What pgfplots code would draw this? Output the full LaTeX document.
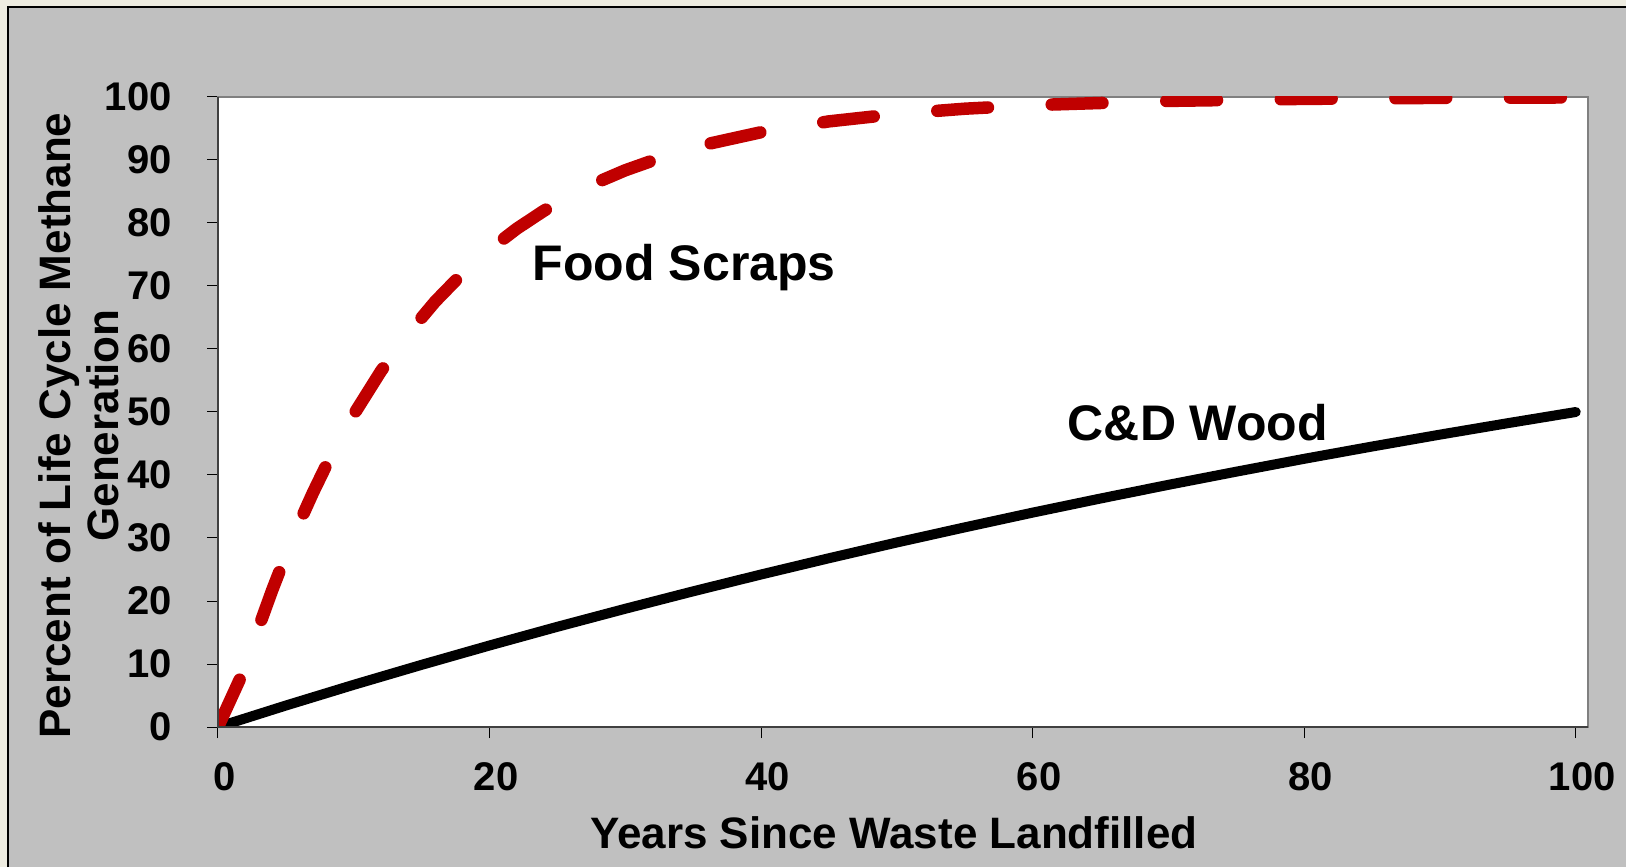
\documentclass[border=0pt]{standalone}
\usepackage{fontspec}
\setmainfont{Liberation Sans}
\usepackage{pgfplots}
\pgfplotsset{compat=1.18}
\definecolor{cream}{HTML}{EEECE1}
\definecolor{chartgray}{HTML}{C0C0C0}
\definecolor{borderg}{HTML}{808080}
\definecolor{axisdark}{HTML}{404040}
\definecolor{foodred}{HTML}{C00000}
\begin{document}
\begin{tikzpicture}
\useasboundingbox (-109pt,-70pt) rectangle (704pt,363.5pt);
\fill[cream] (-109pt,-70pt) rectangle (704pt,363.5pt);
\fill[chartgray] (-105pt,-70pt) rectangle (704pt,360pt);
\draw[black, line width=0.7pt] (-105pt,-70pt) -- (-105pt,360pt) -- (704pt,360pt);
\begin{axis}[
  at={(0,0)}, anchor=south west,
  scale only axis, width=685pt, height=315pt,
  xmin=0, xmax=100.9, ymin=0, ymax=100,
  xtick={0,20,40,60,80,100},
  ytick={0,10,20,30,40,50,60,70,80,90,100},
  tick pos=left, tick align=outside,
  major tick length=5.5pt,
  tick style={black, line width=0.5pt},
  axis background/.style={fill=white},
  axis line style={draw=borderg, line width=1.35pt},
  /pgf/number format/assume math mode=true,
  ticklabel style={font=\fontsize{20pt}{22pt}\selectfont\bfseries, inner sep=0pt},
  xticklabel style={anchor=north, yshift=-12pt, xshift=3.25pt},
  yticklabel style={anchor=east, xshift=-17.5pt},
  xlabel={Years Since Waste Landfilled},
  xlabel style={at={(axis description cs:0.4934,-0.19206)}, anchor=base, inner sep=0pt,
    font=\fontsize{22pt}{24pt}\selectfont\bfseries},
  ylabel={Percent of Life Cycle Methane\\Generation},
  ylabel style={at={(axis description cs:-0.10146,0.4786)}, anchor=center, align=center, inner sep=0pt,
    font=\fontsize{22pt}{24pt}\selectfont\bfseries},
]
\addplot[black, line width=5pt, line cap=round, line join=round] coordinates {
(0,0) (5,3.41) (10,6.70) (15,9.87) (20,12.94) (25,15.91) (30,18.77) (35,21.54)
(40,24.21) (45,26.79) (50,29.29) (55,31.69) (60,34.03) (65,36.27) (70,38.44)
(75,40.53) (80,42.57) (85,44.52) (90,46.41) (95,48.23) (100,50.0)
};
\addplot[foodred, line width=6.25pt, line cap=round, line join=round, dash pattern=on 25.4pt off 31.9pt, dash phase=-0.6pt] coordinates {
(0,0) (2,9.42) (3,15.82) (4,21.77) (5,27.30) (6,32.44) (7,37.22)
(8,41.65) (9,45.78) (10,49.61) (12,56.48) (14,62.41) (16,67.54) (18,71.97)
(20,75.79) (22,79.09) (24,81.94) (26,84.40) (28,86.53) (30,88.37) (33,90.66)
(36,92.51) (40,94.41) (45,96.13) (50,97.31) (55,98.14) (60,98.71) (70,99.38)
(80,99.70) (90,99.86) (100,99.93)
};
\node[anchor=base west, inner sep=0pt, font=\fontsize{25pt}{28pt}\selectfont\bfseries] at (axis cs:23.16,70.95) {Food Scraps};
\node[anchor=base west, inner sep=0pt, font=\fontsize{25pt}{28pt}\selectfont\bfseries] at (axis cs:62.56,45.4) {C\&D Wood};
\end{axis}
\draw[axisdark, line width=1.35pt] (0,315pt) -- (0,0) -- (685pt,0);
\end{tikzpicture}
\end{document}
